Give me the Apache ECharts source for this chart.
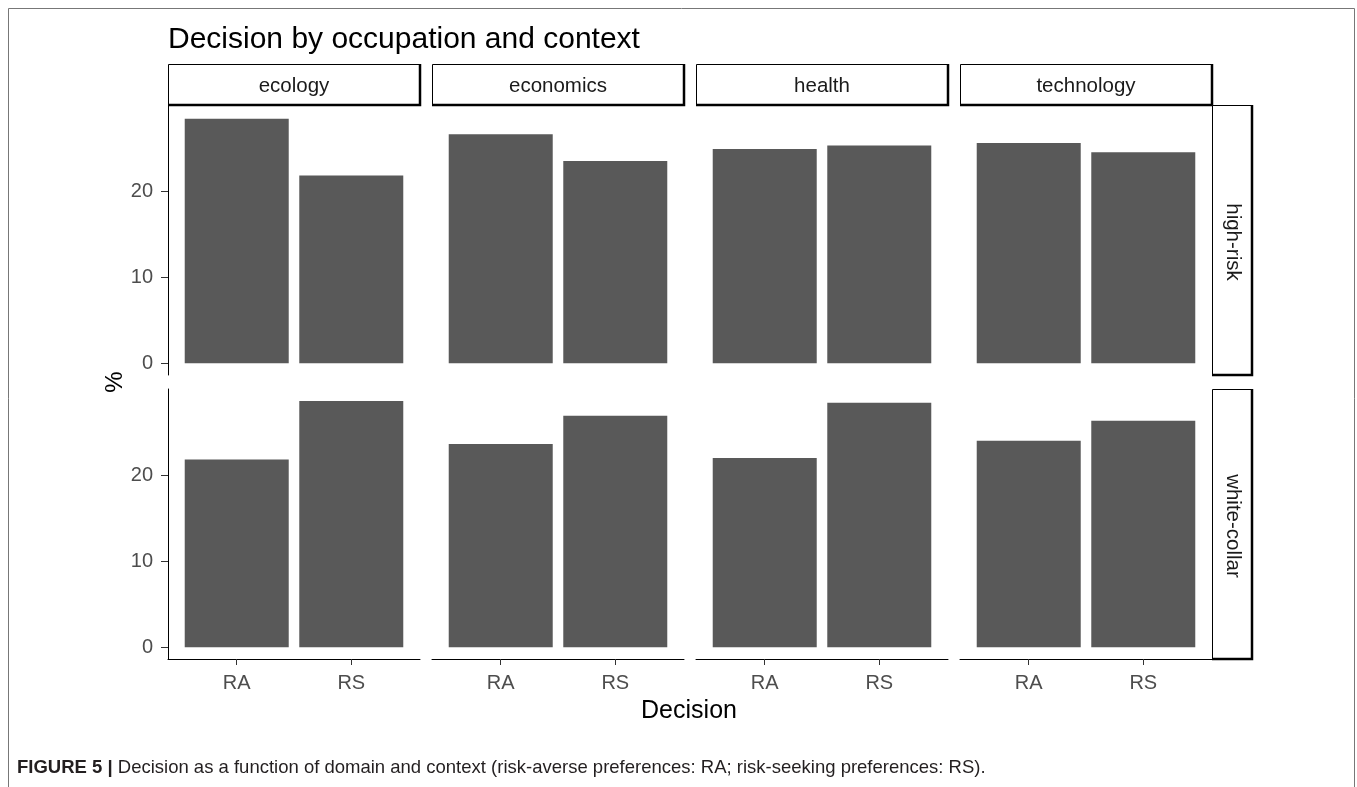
<!DOCTYPE html>
<html>
<head>
<meta charset="utf-8">
<script src="https://cdn.jsdelivr.net/npm/echarts@6/dist/echarts.min.js"></script>
<style>
html,body{margin:0;padding:0;background:#fff;}
#chart{width:1357px;height:787px;}
</style>
</head>
<body>
<div id="chart"></div>
<script>
const domains = ['ecology', 'economics', 'health', 'technology'];
const contexts = ['high-risk', 'white-collar'];
const decisions = ['RA', 'RS'];
const highRiskRA = [28.4, 26.6, 24.9, 25.6];
const highRiskRS = [21.8, 23.5, 25.3, 24.5];
const whiteCollarRA = [21.8, 23.6, 22.0, 24.0];
const whiteCollarRS = [28.6, 26.9, 28.4, 26.3];
const yTicks = [0, 10, 20];
const titleText = 'Decision by occupation and context';
const xTitle = 'Decision';
const yTitle = '%';
const captionBold = 'FIGURE 5 |';
const captionText = ' Decision as a function of domain and context (risk-averse preferences: RA; risk-seeking preferences: RS).';

const values = [[highRiskRA, highRiskRS], [whiteCollarRA, whiteCollarRS]];

const FONT = '"Liberation Sans", Arial, sans-serif';
const colLeft = [168, 432, 696, 960];
const panelW = 252;
const rowTop = [105, 389];
const panelH = 270;
const stripTop = 64;
const stripRight = 1212;
const stripW = 40;

const grids = [], xAxes = [], yAxes = [], series = [];
let idx = 0;
for (let r = 0; r < 2; r++) {
  for (let c = 0; c < 4; c++) {
    grids.push({left: colLeft[c], top: rowTop[r], width: panelW, height: panelH, containLabel: false});
    const bottom = r === 1;
    xAxes.push({
      type: 'value', gridIndex: idx, min: 0.4, max: 2.6,
      splitLine: {show: false},
      axisLine: {show: bottom, onZero: false, lineStyle: {color: '#000', width: 1}},
      axisTick: {show: bottom, customValues: [1, 2], length: 6, lineStyle: {color: '#333'}},
      axisLabel: {show: bottom, customValues: [1, 2], margin: 14, color: '#4d4d4d', fontSize: 20, fontFamily: FONT,
        formatter: v => decisions[Math.round(v) - 1] || ''}
    });
    const first = c === 0;
    yAxes.push({
      type: 'value', gridIndex: idx, min: -1.35, max: 30.0,
      splitLine: {show: false},
      axisLine: {show: first, lineStyle: {color: '#000', width: 1}},
      axisTick: {show: first, customValues: yTicks, length: 7, lineStyle: {color: '#333'}},
      axisLabel: {show: first, customValues: yTicks, margin: 15, color: '#4d4d4d', fontSize: 20, fontFamily: FONT}
    });
    series.push({
      type: 'bar', xAxisIndex: idx, yAxisIndex: idx, barWidth: 104,
      itemStyle: {color: '#595959'},
      silent: true, animation: false,
      data: decisions.map((d, i) => [i + 1, values[r][i][c]])
    });
    idx++;
  }
}

const graphic = [];
// outer frame
graphic.push({type: 'rect', shape: {x: 8.5, y: 8.5, width: 1346, height: 820}, style: {fill: 'none', stroke: '#777', lineWidth: 1}, silent: true});
graphic.push({type: 'text', left: 168, top: 25, style: {text: titleText, fontSize: 30, fill: '#000', fontFamily: FONT}});
// top strips
domains.forEach((d, c) => {
  const x = colLeft[c], y = stripTop, w = panelW, h = rowTop[0] - stripTop;
  graphic.push({type: 'rect', shape: {x: x + 0.5, y: y + 0.5, width: w, height: h}, style: {fill: '#fff', stroke: '#000', lineWidth: 1}});
  graphic.push({type: 'polyline', shape: {points: [[x + w, y], [x + w, y + h], [x, y + h]]}, style: {stroke: '#000', lineWidth: 2.5, fill: 'none'}});
  graphic.push({type: 'text', x: x + w / 2, y: y + h / 2 + 2, style: {text: d, fontSize: 20.5, fill: '#1a1a1a', fontFamily: FONT, align: 'center', verticalAlign: 'middle'}});
});
// right strips
contexts.forEach((t, r) => {
  const x = stripRight, y = rowTop[r], w = stripW, h = panelH;
  graphic.push({type: 'rect', shape: {x: x + 0.5, y: y + 0.5, width: w, height: h}, style: {fill: '#fff', stroke: '#000', lineWidth: 1}});
  graphic.push({type: 'polyline', shape: {points: [[x + w, y], [x + w, y + h], [x, y + h]]}, style: {stroke: '#000', lineWidth: 2.5, fill: 'none'}});
  graphic.push({type: 'text', x: x + w / 2 + 1, y: y + h / 2 + 2, rotation: -Math.PI / 2, style: {text: t, fontSize: 20.5, fill: '#1a1a1a', fontFamily: FONT, align: 'center', verticalAlign: 'middle'}});
});
graphic.push({type: 'text', x: 689, y: 711, style: {text: xTitle, fontSize: 25, fill: '#000', fontFamily: FONT, align: 'center', verticalAlign: 'middle'}});
graphic.push({type: 'text', x: 115, y: 382, rotation: Math.PI / 2, style: {text: yTitle, fontSize: 24, fill: '#000', fontFamily: FONT, align: 'center', verticalAlign: 'middle'}});
graphic.push({type: 'text', left: 17, top: 758, style: {
  text: '{b|' + captionBold + '}' + captionText,
  fontSize: 18.5, fill: '#231f20', fontFamily: FONT,
  rich: {b: {fontWeight: 'bold', fontSize: 18.5, fill: '#231f20', fontFamily: FONT}}
}});

const chart = echarts.init(document.getElementById('chart'), null, {renderer: 'canvas'});
chart.setOption({
  animation: false,
  grid: grids, xAxis: xAxes, yAxis: yAxes, series: series,
  graphic: graphic
});
</script>
</body>
</html>
